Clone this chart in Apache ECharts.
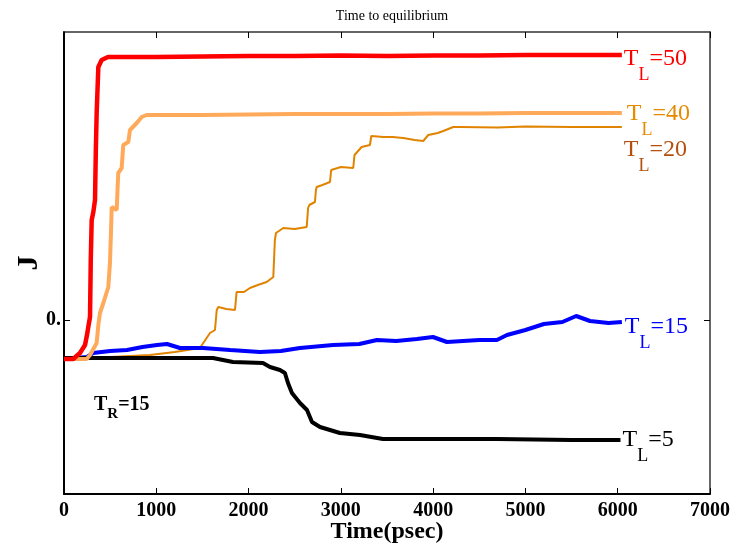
<!DOCTYPE html>
<html><head><meta charset="utf-8">
<script src="https://cdn.jsdelivr.net/npm/echarts@6/dist/echarts.min.js"></script>
<style>html,body{margin:0;padding:0;background:#fff}#c{width:734px;height:547px}</style>
</head><body><div id="c"></div>
<script>
const xTicks = [0,1000,2000,3000,4000,5000,6000,7000];
const yTickValues = [0];
const seriesNames = ['TL=50','TL=40','TL=20','TL=15','TL=5'];
const labelParts = [['T','L','=50'],['T','L','=40'],['T','L','=20'],['T','L','=15'],['T','L','=5']];
const tl50 = [[0,-0.39],[100,-0.39],[173,-0.33],[228,-0.25],[255,-0.12],[263,-0.07],[282,0.03],[290,0.6],[300,1.0],[318,1.08],[336,1.2],[345,1.7],[354,2.07],[372,2.53],[408,2.60],[477,2.63],[1000,2.63],[1500,2.635],[2000,2.64],[2500,2.64],[3000,2.645],[3500,2.64],[4000,2.645],[4500,2.645],[5000,2.65],[5500,2.65],[6045,2.65]];
const tl40 = [[0,-0.39],[246,-0.39],[282,-0.35],[354,-0.23],[372,-0.05],[390,0.07],[426,0.17],[470,0.30],[480,0.33],[498,0.57],[510,0.9],[517,1.13],[571,1.10],[580,1.3],[588,1.47],[625,1.52],[642,1.75],[697,1.78],[715,1.90],[788,1.97],[842,2.03],[896,2.05],[1500,2.05],[2000,2.055],[2500,2.06],[3000,2.06],[3500,2.06],[4000,2.065],[4500,2.065],[5000,2.07],[5500,2.07],[6045,2.07]];
const tl20 = [[0,-0.39],[500,-0.37],[932,-0.35],[1200,-0.32],[1473,-0.28],[1509,-0.23],[1582,-0.13],[1636,-0.10],[1655,0.10],[1672,0.13],[1760,0.11],[1853,0.10],[1870,0.28],[1888,0.30],[1950,0.28],[2015,0.32],[2100,0.35],[2196,0.38],[2268,0.43],[2285,0.80],[2297,0.87],[2376,0.92],[2500,0.91],[2630,0.93],[2645,1.12],[2658,1.15],[2719,1.18],[2730,1.30],[2738,1.33],[2800,1.35],[2882,1.38],[2895,1.50],[2900,1.52],[3000,1.53],[3134,1.52],[3148,1.65],[3153,1.67],[3225,1.73],[3315,1.75],[3330,1.84],[3345,1.85],[3460,1.83],[3560,1.83],[3676,1.82],[3800,1.80],[3893,1.79],[3947,1.85],[4050,1.87],[4110,1.89],[4218,1.93],[4290,1.93],[4700,1.925],[5000,1.935],[5500,1.93],[6045,1.93]];
const tl15 = [[0,-0.39],[250,-0.37],[314,-0.33],[500,-0.31],[683,-0.30],[850,-0.27],[1008,-0.25],[1116,-0.24],[1257,-0.28],[1506,-0.28],[1800,-0.30],[2123,-0.32],[2350,-0.31],[2557,-0.28],[2915,-0.25],[3200,-0.24],[3391,-0.20],[3600,-0.21],[3824,-0.19],[3998,-0.17],[4150,-0.22],[4500,-0.20],[4691,-0.20],[4800,-0.15],[5000,-0.10],[5200,-0.04],[5400,-0.02],[5550,0.04],[5700,-0.01],[5900,-0.03],[6045,-0.02]];
const tl5 = [[0,-0.38],[1040,-0.38],[1614,-0.38],[1831,-0.42],[2156,-0.43],[2232,-0.47],[2340,-0.50],[2394,-0.53],[2427,-0.63],[2470,-0.73],[2557,-0.83],[2633,-0.90],[2687,-1.02],[2774,-1.07],[2990,-1.13],[3207,-1.15],[3456,-1.19],[3998,-1.19],[4691,-1.19],[5500,-1.20],[6030,-1.20]];

const serif = '"Liberation Serif","DejaVu Serif",serif';
function endLabel(parts, color, dx, dy) {
  return {
    show: true, distance: 2, offset: [dx, dy],
    formatter: '{t|' + parts[0] + '}{s|' + parts[1] + '}{t|' + parts[2] + '}',
    rich: {
      t: {fontFamily: serif, fontSize: 24, lineHeight: 24, color: color, verticalAlign: 'top'},
      s: {fontFamily: serif, fontSize: 18, lineHeight: 18, color: color, verticalAlign: 'top', padding: [19,0,0,0]}
    }
  };
}
function mk(name, data, color, width, z, lbl) {
  return {name: name, type: 'line', data: data, showSymbol: false, symbol: 'none', z: z, animation: false,
    lineStyle: {color: color, width: width}, itemStyle: {color: color}, endLabel: lbl, labelLayout: {hideOverlap: false}};
}
const chart = echarts.init(document.getElementById('c'));
const axisCommon = {min: 0, max: 7000, interval: 1000, splitLine: {show: false}};
chart.setOption({
  animation: false,
  title: {text: 'Time to equilibrium', left: 387, textAlign: 'center', top: 4,
    textStyle: {fontFamily: serif, fontSize: 14, fontWeight: 'normal', color: '#000'}},
  grid: {left: 64, right: 24, top: 32, bottom: 53, containLabel: false, outerBoundsMode: 'none'},
  xAxis: [
    Object.assign({type: 'value', position: 'bottom', name: 'Time(psec)', nameLocation: 'middle', nameGap: 26, nameMoveOverlap: false,
      nameTextStyle: {fontFamily: serif, fontSize: 24, fontWeight: 'bold', color: '#000', verticalAlign: 'top'},
      axisLine: {onZero: false, lineStyle: {color: '#000', width: 2}},
      axisTick: {inside: true, length: 6, lineStyle: {color: '#000', width: 1}},
      axisLabel: {fontFamily: serif, fontSize: 20, fontWeight: 'bold', color: '#000', margin: 7,
        formatter: v => String(v)}}, axisCommon),
    Object.assign({type: 'value', position: 'top',
      axisLine: {onZero: false, lineStyle: {color: '#333', width: 1.5}},
      axisTick: {inside: true, length: 6, lineStyle: {color: '#000', width: 1}},
      axisLabel: {show: false}}, axisCommon)
  ],
  yAxis: [
    {type: 'value', position: 'left', min: -1.74, max: 2.88, splitLine: {show: false},
      name: 'J', nameLocation: 'middle', nameGap: 20, nameMoveOverlap: false,
      nameTextStyle: {fontFamily: serif, fontSize: 30, fontWeight: 'bold', color: '#000'},
      axisLine: {onZero: false, lineStyle: {color: '#000', width: 2}},
      axisTick: {inside: true, length: 6, customValues: yTickValues, lineStyle: {color: '#000', width: 1}},
      axisLabel: {customValues: yTickValues, formatter: v => v === 0 ? '0.' : '', fontFamily: serif, fontSize: 20, fontWeight: 'bold', color: '#000', margin: 3}},
    {type: 'value', position: 'right', min: -1.74, max: 2.88, splitLine: {show: false},
      axisLine: {onZero: false, lineStyle: {color: '#333', width: 1.5}},
      axisTick: {inside: true, length: 6, customValues: yTickValues, lineStyle: {color: '#000', width: 1}},
      axisLabel: {show: false}}
  ],
  graphic: [{type: 'text', left: 94, top: 395, style: {
    text: '{t|T}{s|R}{t|=15}', fill: '#000',
    rich: {t: {fontFamily: serif, fontSize: 20, fontWeight: 'bold', lineHeight: 20, verticalAlign: 'top', fill: '#000'},
           s: {fontFamily: serif, fontSize: 15, fontWeight: 'bold', lineHeight: 15, verticalAlign: 'top', padding: [12,0,0,0], fill: '#000'}}}}],
  series: [
    mk(seriesNames[2], tl20, '#E08400', 2, 2, endLabel(labelParts[2], '#B3500F', 0, 23)),
    mk(seriesNames[3], tl15, '#0000FF', 4, 3, endLabel(labelParts[3], '#0000FF', 1, 5)),
    mk(seriesNames[4], tl5, '#000000', 4, 4, endLabel(labelParts[4], '#000000', 0, 0)),
    mk(seriesNames[1], tl40, '#FFAA5A', 4, 5, endLabel(labelParts[1], '#E68A00', 3, 1)),
    mk(seriesNames[0], tl50, '#FF0000', 4.5, 6, endLabel(labelParts[0], '#FF0000', 0, 4))
  ]
});
</script></body></html>
